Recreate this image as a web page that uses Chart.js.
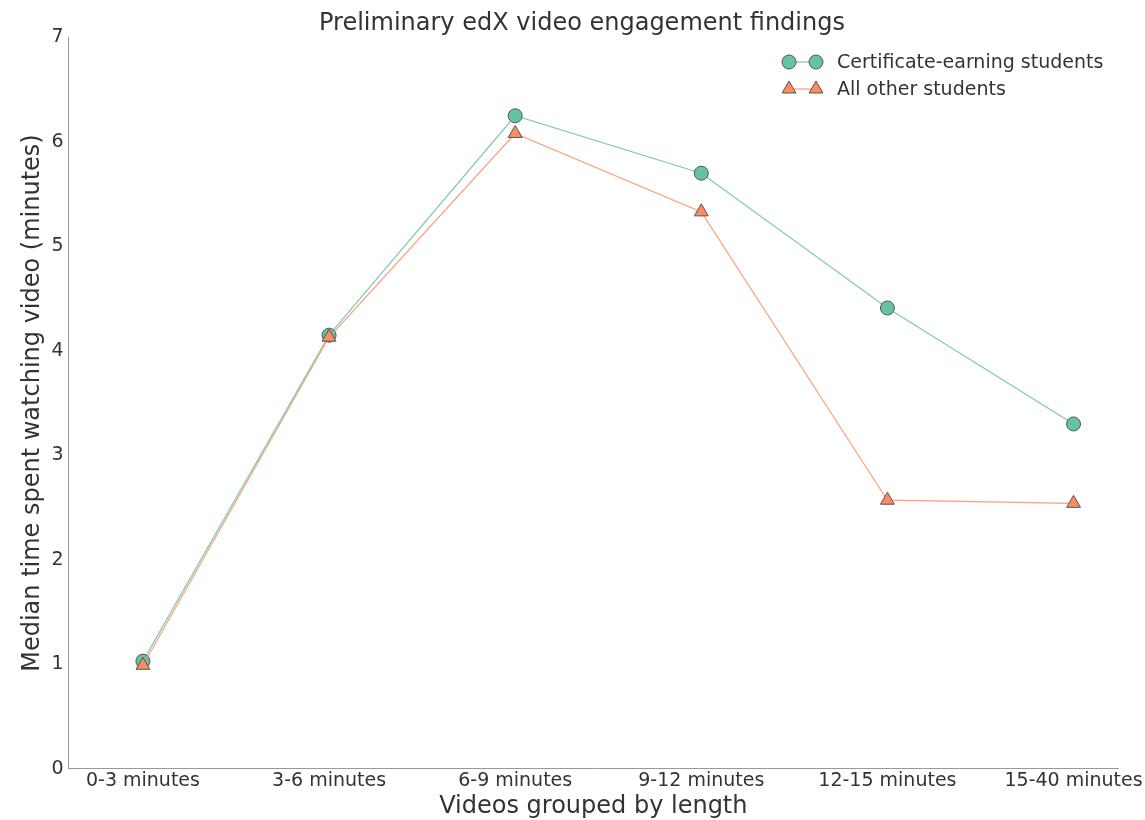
<!DOCTYPE html>
<html>
<head>
<meta charset="utf-8">
<script src="https://cdn.jsdelivr.net/npm/chart.js@4.4.1/dist/chart.umd.min.js"></script>
<style>
  html, body { margin: 0; padding: 0; background: #fff; }
  #wrap { width: 1145px; height: 820px; }
</style>
</head>
<body>
<div id="wrap"><canvas id="chart"></canvas></div>
<script>
// Data
const categories = ['0-3 minutes', '3-6 minutes', '6-9 minutes', '9-12 minutes', '12-15 minutes', '15-40 minutes'];
const certificateValues = [1.03, 4.15, 6.25, 5.70, 4.41, 3.30];
const otherValues = [0.99, 4.13, 6.08, 5.33, 2.57, 2.54];
const yTicks = [0, 1, 2, 3, 4, 5, 6, 7];

const GREEN = '#66c2a5';
const ORANGE = '#fc8d62';
const EDGE = '#555555';
const TEXT = '#333333';
const FONT = "'DejaVu Sans', sans-serif";

function toPoints(values) {
  return values.map((v, i) => ({ x: i, y: v }));
}

// Legend in matplotlib style: marker - line - marker, then label
const mplLegend = {
  id: 'mplLegend',
  afterDraw(chart) {
    const ctx = chart.ctx;
    const items = chart.data.datasets.slice().sort((a, b) => a.legendRank - b.legendRank);
    const x0 = 789, x1 = 816, textX = 837;
    let y = 62;
    ctx.save();
    items.forEach(ds => {
      ctx.strokeStyle = ds.borderColor;
      ctx.lineWidth = 1.2;
      ctx.beginPath();
      ctx.moveTo(x0, y);
      ctx.lineTo(x1, y);
      ctx.stroke();
      [x0, x1].forEach(px => {
        ctx.fillStyle = ds.pointBackgroundColor;
        ctx.strokeStyle = ds.pointBorderColor;
        ctx.lineWidth = 1;
        Chart.helpers.drawPoint(ctx, { pointStyle: ds.pointStyle, radius: ds.pointRadius, rotation: 0, borderWidth: 1 }, px, y);
      });
      ctx.fillStyle = TEXT;
      ctx.font = '19px ' + FONT;
      ctx.textAlign = 'left';
      ctx.textBaseline = 'middle';
      ctx.fillText(ds.label, textX, y + 1);
      y += 27;
    });
    ctx.restore();
  }
};

new Chart(document.getElementById('chart').getContext('2d'), {
  type: 'line',
  data: {
    datasets: [
      {
        label: 'Certificate-earning students',
        legendRank: 0,
        order: 1,
        data: toPoints(certificateValues),
        borderColor: 'rgba(102,194,165,0.85)',
        borderWidth: 1.2,
        pointStyle: 'circle',
        pointRadius: 7,
        pointHoverRadius: 7,
        pointBackgroundColor: GREEN,
        pointBorderColor: EDGE,
        pointBorderWidth: 1,
        tension: 0
      },
      {
        label: 'All other students',
        legendRank: 1,
        order: 0,
        data: toPoints(otherValues),
        borderColor: 'rgba(252,141,98,0.85)',
        borderWidth: 1.2,
        pointStyle: 'triangle',
        pointRadius: 8,
        pointHoverRadius: 8,
        pointBackgroundColor: ORANGE,
        pointBorderColor: EDGE,
        pointBorderWidth: 1,
        tension: 0
      }
    ]
  },
  options: {
    responsive: true,
    maintainAspectRatio: false,
    animation: false,
    layout: { padding: { left: 20, right: 1, top: 0, bottom: 0 } },
    plugins: {
      legend: { display: false },
      tooltip: { enabled: false },
      title: {
        display: true,
        text: 'Preliminary edX video engagement findings',
        color: TEXT,
        font: { family: FONT, size: 24, weight: 'normal', lineHeight: 1.1 },
        padding: { top: 11, bottom: 0 }
      }
    },
    scales: {
      x: {
        type: 'linear',
        min: -0.4,
        max: 5.24,
        grid: { display: false, drawTicks: false },
        border: { display: true, color: '#999999', width: 1 },
        afterBuildTicks: axis => { axis.ticks = categories.map((c, i) => ({ value: i })); },
        ticks: {
          color: TEXT,
          font: { family: FONT, size: 19, lineHeight: 1.1 },
          padding: 2,
          maxRotation: 0,
          autoSkip: false,
          callback: value => categories[value]
        },
        title: {
          display: true,
          text: 'Videos grouped by length',
          color: TEXT,
          font: { family: FONT, size: 24, lineHeight: 1.1 },
          padding: { top: 0, bottom: 0 }
        }
      },
      y: {
        min: 0,
        max: 7,
        grid: { display: false, drawTicks: false },
        border: { display: true, color: '#999999', width: 1 },
        afterBuildTicks: axis => { axis.ticks = yTicks.map(v => ({ value: v })); },
        ticks: {
          color: TEXT,
          font: { family: FONT, size: 19 },
          padding: 5
        },
        title: {
          display: true,
          text: 'Median time spent watching video (minutes)',
          color: TEXT,
          font: { family: FONT, size: 24, lineHeight: 1.1 },
          padding: { top: 0, bottom: 0 }
        }
      }
    }
  },
  plugins: [mplLegend]
});
</script>
</body>
</html>
